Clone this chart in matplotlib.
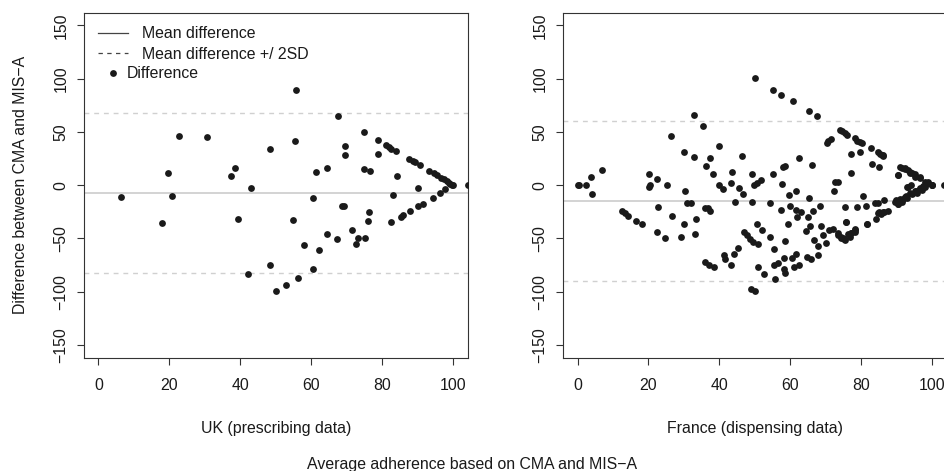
import numpy as np
import matplotlib
matplotlib.use("Agg")
import matplotlib.pyplot as plt
from matplotlib.lines import Line2D

plt.rcParams['font.family'] = ['Liberation Sans', 'DejaVu Sans']
plt.rcParams['axes.unicode_minus'] = True

# UK (prescribing data): average adherence vs difference
uk_avg = [6.4, 17.9, 19.6, 20.8, 22.8, 30.5, 37.2, 38.5, 39.4, 42.0, 43.1, 48.2, 48.3, 49.9,
          52.8, 54.8, 55.3, 55.5, 56.2, 57.9, 60.3, 60.3, 61.3, 62.0, 64.4, 64.5, 67.2, 67.4,
          68.7, 69.3, 69.4, 69.4, 71.3, 72.4, 73.2, 74.9, 74.8, 75.2, 75.9, 76.2, 76.5, 78.8,
          78.7, 81.0, 81.7, 82.5, 83.9, 82.5, 82.9, 84.2, 85.1, 85.9, 87.8, 87.6, 88.5, 89.3,
          90.6, 90.1, 90.1, 91.5, 93.1, 94.1, 94.4, 95.3, 96.1, 96.5, 97.2, 97.6, 98.1, 98.6,
          99.0, 99.5, 100.0, 104.0]
uk_diff = [-11.3, -35.7, 11.3, -10.3, 46.0, 45.1, 8.4, 16.0, -31.9, -83.6, -2.8, 33.8, -75.1, -99.5,
           -93.9, -32.9, 41.3, 89.2, -87.3, -56.3, -12.2, -78.9, 12.2, -60.8, 16.0, -46.0, -50.7, 64.8,
           -19.7, -19.1, 37.2, 28.2, -42.3, -54.8, -49.5, 49.8, 15.0, -49.5, -33.8, -24.8, 13.1, 42.3,
           29.1, 37.6, 35.7, 34.4, 32.5, -34.7, -9.4, 8.7, -29.5, -27.9, -24.4, 24.4, 22.9, 21.6,
           18.8, -2.2, -19.1, -17.6, 13.4, -11.6, 11.8, 9.7, -7.5, 7.2, 5.6, -3.8, 4.1, 2.5,
           1.3, 0.0, 0.0, 0.0]
uk_mean, uk_upper, uk_lower = -7.0, 68.2, -82.2

# France (dispensing data)
fr_avg = [0.0, 0.3, 2.5, 3.8, 4.2, 6.9, 12.6, 13.3, 14.3, 16.4, 18.2, 20.1, 20.4, 20.1, 22.3, 22.8,
          22.3, 24.6, 25.1, 26.3, 26.5, 29.1, 30.1, 30.3, 30.1, 31.0, 32.1, 32.7, 32.9, 33.2, 33.5,
          35.5, 36.1, 35.9, 36.7, 37.4, 37.3, 35.9, 37.0, 38.4, 38.2, 40.0, 40.0, 41.0, 41.3, 41.6,
          43.4, 43.2, 43.6, 44.5, 44.2, 45.3, 45.6, 46.6, 46.4, 46.8, 47.8, 48.5, 49.1, 49.2, 49.8,
          49.6, 50.9, 48.9, 50.0, 49.9, 50.7, 51.7, 50.7, 51.9, 50.9, 52.6, 54.3, 54.3, 55.0, 55.2,
          55.3, 55.6, 55.4, 56.6, 57.3, 57.3, 57.7, 58.0, 58.6, 58.1, 58.3, 58.5, 58.6, 59.4, 59.9,
          59.7, 60.6, 60.5, 60.9, 61.5, 61.5, 61.9, 61.7, 62.4, 62.9, 62.4, 64.3, 64.7, 65.0, 65.2,
          65.2, 65.6, 65.7, 66.0, 66.3, 66.7, 67.5, 67.7, 67.7, 68.4, 68.6, 69.1, 69.9, 70.2, 70.7,
          71.4, 70.9, 72.0, 72.2, 72.7, 73.5, 73.5, 74.1, 74.6, 75.4, 74.4, 75.2, 75.4, 75.6, 76.3,
          77.1, 77.1, 77.2, 78.2, 78.2, 78.9, 78.7, 79.7, 79.7, 80.4, 81.4, 81.6, 82.6, 82.9, 83.8,
          84.1, 84.6, 84.8, 85.3, 86.1, 84.9, 85.5, 86.3, 86.3, 87.4, 89.9, 90.2, 90.4, 91.4, 92.3,
          93.2, 91.6, 92.7, 93.2, 94.0, 94.2, 95.1, 96.5, 94.2, 95.3, 96.5, 97.5, 97.9, 98.7, 99.8,
          100.0, 103.4, 75.9, 80.1, 85.7, 86.2, 85.0, 90.2, 93.7, 98.9, 92.8, 97.0, 95.6, 92.8,
          91.4, 90.2, 74.9, 77.1, 78.2, 84.8, 86.2, 81.7, 75.6,
          90.9, 92.3, 93.7, 95.1, 96.5, 98.4, 99.8, 89.5, 90.9, 92.3, 93.7, 95.1, 96.5, 97.9,
          73.5, 74.4, 75.4, 76.8, 78.2]
fr_diff = [0.0, 0.0, 0.0, 7.5, -8.1, 14.1, -24.4, -26.3, -28.8, -33.2, -36.9, 10.3, 0.0, -1.9, 5.6, -20.7,
           -44.1, -49.8, 0.0, 46.0, -28.5, -49.1, 31.6, -5.6, -36.6, -16.9, -16.3, 26.3, 65.7, -46.3, -31.9,
           55.4, 18.2, -21.6, -21.0, 25.4, -24.4, -72.3, -74.8, -77.0, 10.6, 36.6, 0.0, -3.4, -65.7, -69.5,
           -75.4, 1.9, 12.2, -15.6, -64.8, -59.2, -3.1, -8.1, 27.2, -43.8, -46.9, -51.0, -15.6, 10.3, 0.0,
           -52.9, -55.4, -97.3, -99.8, 100.5, 2.5, 4.4, -36.9, -41.9, -77.0, -83.3, -16.3, -49.1, 10.3, 89.2,
           -60.4, -88.3, -75.4, -73.2, -22.9, 85.1, 0.9, 17.5, 18.2, -68.5, -78.9, -82.6, -52.6, -36.3, -19.1,
           -9.4, 78.9, -68.5, -76.4, -5.9, -22.9, -30.0, -64.8, -75.1, -25.0, 25.7, -42.6, -67.6, -30.0, -11.9,
           69.8, -38.5, -69.5, 18.5, -24.4, -51.3, 65.1, -57.3, -65.7, -19.7, -38.2, -46.6, -54.5, 39.4, 41.9,
           43.2, -41.9, -41.6, -5.6, 3.1, 3.1, -46.9, 52.0, 50.7, 48.8, -48.8, -50.1, -20.7, -35.0, -46.3,
           11.6, 29.1, -45.1, 44.4, -41.9, 41.9, -20.7, 40.1, 31.0, -10.3, -20.0, -36.6, 34.7, 19.7, -16.3,
           -31.9, -16.3, 31.0, 29.7, 28.8, -25.0, -26.9, -13.5, -25.0, -23.8, -13.8, 9.4, -17.5, 16.0, 16.0,
           13.8, -12.8, -10.6, -1.9, 0.3, 11.9, 10.6, 8.1, -8.1, -5.9, -3.1, -0.6, 3.1, 2.8, 0.0,
           0.0, 0.0, 47.2, 39.4, 28.5, 27.5, 16.9, 9.7, 12.8, 1.9, -1.3, -4.4, -7.5, -12.2,
           -15.4, -17.8, -49.8, -44.5, -41.3, -26.3, -24.8, -36.3, -34.7,
           16.9, 15.0, 11.3, 8.1, 6.6, 1.9, 0.3, -15.4, -13.1, -10.7, -7.5, -5.1, -3.8, -1.9,
           -45.1, -49.8, -51.4, -48.3, -43.6]
fr_mean, fr_upper, fr_lower = -14.8, 60.1, -89.7

x_ticks = [0, 20, 40, 60, 80, 100]
y_ticks = [-150, -100, -50, 0, 50, 100, 150]

TXT = '#1a1a1a'
FS = 11.4

fig = plt.figure(figsize=(9.45, 4.71), dpi=100)
ax1 = fig.add_axes([0.0892, 0.2406, 0.4057, 0.7325])
ax2 = fig.add_axes([0.5961, 0.2406, 0.4055, 0.7325])

panels = [(ax1, uk_avg, uk_diff, uk_mean, uk_upper, uk_lower, "UK (prescribing data)"),
          (ax2, fr_avg, fr_diff, fr_mean, fr_upper, fr_lower, "France (dispensing data)")]

for ax, xs, ys, m, up, lo, lab in panels:
    ax.axhline(m, color='#d0d0d0', lw=1.3, zorder=1)
    ax.axhline(up, color='#d0d0d0', lw=1.0, ls=(0, (3.5, 3.5)), zorder=1)
    ax.axhline(lo, color='#d0d0d0', lw=1.0, ls=(0, (3.5, 3.5)), zorder=1)
    ax.plot(xs, ys, 'o', color='#1a1a1a', ms=4.9, mec='none', zorder=3)
    ax.set_xlim(-4, 104)
    ax.set_ylim(-162, 162)
    ax.set_xticks(x_ticks)
    ax.set_yticks(y_ticks)
    ax.tick_params(direction='out', length=5.2, width=0.8, colors='#333333', labelcolor=TXT,
                   labelsize=FS)
    ax.tick_params(axis='x', pad=9.4)
    ax.tick_params(axis='y', pad=6.2)
    for t in ax.get_yticklabels():
        t.set_rotation(90)
        t.set_va('center')
    for s in ax.spines.values():
        s.set_color('#333333')
        s.set_linewidth(0.8)
    ax.set_xlabel(lab, fontsize=FS, color=TXT, labelpad=20)

ax1.set_ylabel("Difference between CMA and MIS\u2212A", fontsize=FS, color=TXT, labelpad=18)

h_mean = Line2D([], [], color='#444444', lw=0.9)
h_sd = Line2D([], [], color='#444444', lw=0.9, ls=(0, (3.5, 3.5)))
leg1 = ax1.legend([h_mean, h_sd], ["Mean difference", "Mean difference +/ 2SD"],
                  loc='upper left', bbox_to_anchor=(0.036, 0.961), frameon=False,
                  fontsize=FS, handlelength=1.9, handletextpad=0.89, borderpad=0,
                  borderaxespad=0, labelspacing=0.34, labelcolor=TXT)
ax1.add_artist(leg1)
h_pt = Line2D([], [], color='#1a1a1a', marker='o', ls='none', ms=4.9, mec='none')
ax1.legend([h_pt], ["Difference"], loc='upper left', bbox_to_anchor=(0.054, 0.845),
           frameon=False, fontsize=FS, handlelength=1.0, handletextpad=0.4, borderpad=0,
           borderaxespad=0, labelcolor=TXT)

fig.text(0.5, 0.013, "Average adherence based on CMA and MIS\u2212A", ha='center', va='center',
         fontsize=FS, color=TXT)

fig.savefig("out.png", dpi=100)
